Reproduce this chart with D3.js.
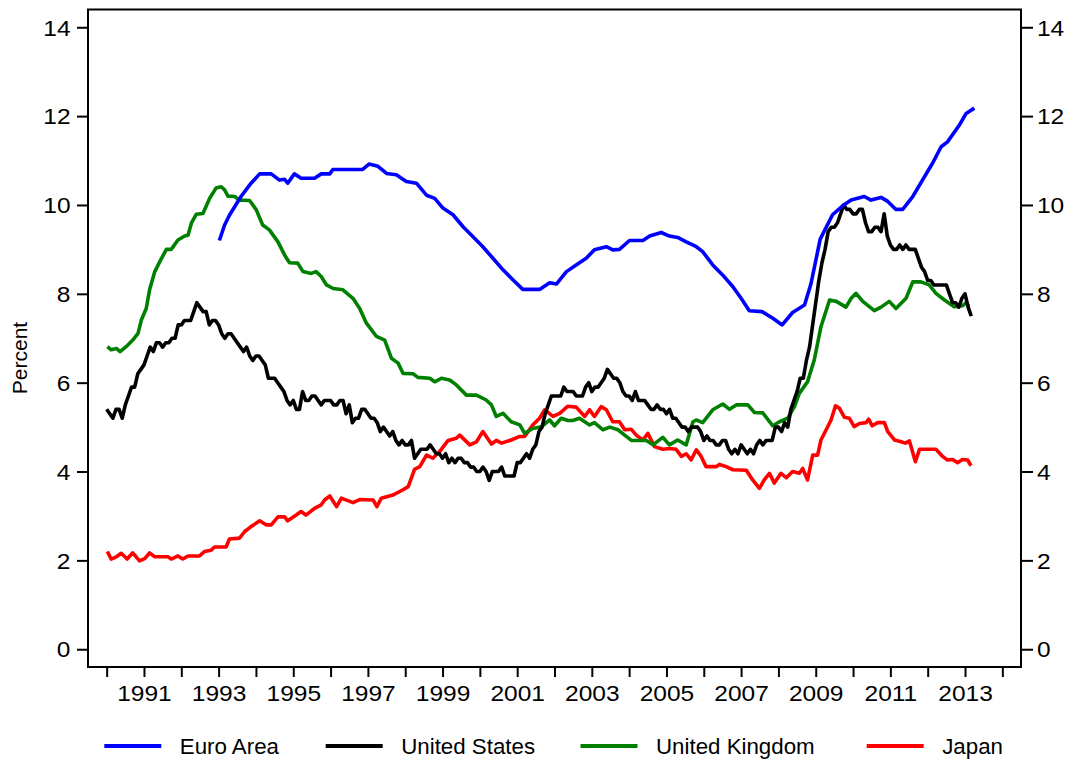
<!DOCTYPE html>
<html>
<head>
<meta charset="utf-8">
<script src="https://cdn.jsdelivr.net/npm/d3@7"></script>
<style>
  html, body { margin: 0; padding: 0; background: #fff; }
  svg { display: block; }
  text { font-family: "Liberation Sans", Arial, Helvetica, sans-serif; fill: #000; }
</style>
</head>
<body>
<svg id="chart" width="1073" height="765"></svg>
<script>
// ---------------- DATA ----------------
const seriesNames = ["Euro Area", "United States", "United Kingdom", "Japan"];
const seriesColors = ["#0000ff", "#000000", "#008000", "#ff0000"];

const yTicks = [0, 2, 4, 6, 8, 10, 12, 14];
const xTickYears = d3.range(1990, 2015);
const xLabelYears = [1991, 1993, 1995, 1997, 1999, 2001, 2003, 2005, 2007, 2009, 2011, 2013];

// United States: monthly, Jan 1990 – Mar 2013
const usStart = 1990;
const usValues = [
  5.4,5.3,5.2,5.4,5.4,5.2,5.5,5.7,5.9,5.9,6.2,6.3,
  6.4,6.6,6.8,6.7,6.9,6.9,6.8,6.9,6.9,7.0,7.0,7.3,
  7.3,7.4,7.4,7.4,7.6,7.8,7.7,7.6,7.6,7.3,7.4,7.4,
  7.3,7.1,7.0,7.1,7.1,7.0,6.9,6.8,6.7,6.8,6.6,6.5,
  6.6,6.6,6.5,6.4,6.1,6.1,6.1,6.0,5.9,5.8,5.6,5.5,
  5.6,5.4,5.4,5.8,5.6,5.6,5.7,5.7,5.6,5.5,5.6,5.6,
  5.6,5.5,5.5,5.6,5.6,5.3,5.5,5.1,5.2,5.2,5.4,5.4,
  5.3,5.2,5.2,5.1,4.9,5.0,4.9,4.8,4.9,4.7,4.6,4.7,
  4.6,4.6,4.7,4.3,4.4,4.5,4.5,4.5,4.6,4.5,4.4,4.4,
  4.3,4.4,4.2,4.3,4.2,4.3,4.3,4.2,4.2,4.1,4.1,4.0,
  4.0,4.1,4.0,3.8,4.0,4.0,4.0,4.1,3.9,3.9,3.9,3.9,
  4.2,4.2,4.3,4.4,4.3,4.5,4.6,4.9,5.0,5.3,5.5,5.7,
  5.7,5.7,5.7,5.9,5.8,5.8,5.8,5.7,5.7,5.7,5.9,6.0,
  5.8,5.9,5.9,6.0,6.1,6.3,6.2,6.1,6.1,6.0,5.8,5.7,
  5.7,5.6,5.8,5.6,5.6,5.6,5.5,5.4,5.4,5.5,5.4,5.4,
  5.3,5.4,5.2,5.2,5.1,5.0,5.0,4.9,5.0,5.0,5.0,4.9,
  4.7,4.8,4.7,4.7,4.6,4.6,4.7,4.7,4.5,4.4,4.5,4.4,
  4.6,4.5,4.4,4.5,4.4,4.6,4.7,4.6,4.7,4.7,4.7,5.0,
  5.0,4.9,5.1,5.0,5.4,5.6,5.8,6.1,6.1,6.5,6.8,7.3,
  7.8,8.3,8.7,9.0,9.4,9.5,9.5,9.6,9.8,10.0,9.9,9.9,
  9.8,9.8,9.9,9.9,9.6,9.4,9.4,9.5,9.5,9.4,9.8,9.3,
  9.1,9.0,9.0,9.1,9.0,9.1,9.0,9.0,9.0,8.8,8.6,8.5,
  8.3,8.3,8.2,8.2,8.2,8.2,8.2,8.0,7.8,7.8,7.7,7.9,
  8.0,7.7,7.5
];
const usDates = usValues.map((v, i) => usStart + i / 12);

// Euro Area (decimal year, percent)
const euroDates = [
  1993.02,1993.16,1993.29,1993.43,1993.60,1993.87,1994.10,1994.41,1994.63,1994.77,
  1994.85,1995.03,1995.21,1995.57,1995.75,1995.98,1996.06,1996.86,1997.03,1997.27,
  1997.50,1997.76,1998.03,1998.30,1998.57,1998.79,1999.01,1999.28,1999.55,1999.81,
  2000.08,2000.35,2000.62,2000.89,2001.15,2001.60,2001.87,2002.05,2002.32,2002.58,
  2002.85,2003.07,2003.39,2003.56,2003.74,2004.01,2004.37,2004.55,2004.86,2005.08,
  2005.30,2005.53,2005.80,2005.97,2006.24,2006.51,2006.78,2007.00,2007.22,2007.56,
  2007.85,2008.10,2008.38,2008.70,2008.87,2009.12,2009.45,2009.72,2009.95,2010.30,
  2010.48,2010.75,2010.93,2011.15,2011.33,2011.60,2011.86,2012.13,2012.36,2012.53,
  2012.85,2013.03,2013.25
];
const euroValues = [
  9.2,9.55,9.77,9.96,10.19,10.49,10.7,10.7,10.56,10.58,
  10.49,10.7,10.6,10.6,10.7,10.7,10.8,10.8,10.92,10.87,
  10.71,10.68,10.53,10.49,10.22,10.15,9.93,9.78,9.51,9.29,
  9.06,8.8,8.54,8.31,8.1,8.1,8.25,8.22,8.5,8.65,
  8.8,8.99,9.06,8.99,9.0,9.2,9.2,9.3,9.38,9.3,
  9.27,9.17,9.06,8.95,8.65,8.42,8.16,7.9,7.62,7.6,
  7.45,7.3,7.58,7.75,8.22,9.23,9.78,9.98,10.11,10.19,
  10.11,10.17,10.08,9.9,9.9,10.19,10.56,10.94,11.31,11.42,
  11.8,12.06,12.18
];

// United Kingdom (decimal year, percent)
const ukDates = [
  1990.02,1990.12,1990.26,1990.36,1990.52,1990.70,1990.84,1990.93,1991.06,1991.15,
  1991.29,1991.42,1991.60,1991.73,1991.91,1992.09,1992.18,1992.27,1992.40,1992.58,
  1992.76,1992.93,1993.07,1993.16,1993.25,1993.43,1993.56,1993.83,1994.01,1994.18,
  1994.36,1994.59,1994.77,1994.90,1995.12,1995.26,1995.48,1995.61,1995.75,1995.89,
  1996.07,1996.33,1996.60,1996.78,1996.96,1997.23,1997.45,1997.63,1997.81,1997.94,
  1998.21,1998.34,1998.66,1998.79,1998.97,1999.19,1999.37,1999.64,1999.91,2000.17,
  2000.31,2000.44,2000.62,2000.84,2001.07,2001.20,2001.42,2001.65,2001.87,2002.00,
  2002.18,2002.36,2002.49,2002.67,2002.94,2003.07,2003.30,2003.48,2003.70,2003.88,
  2004.06,2004.46,2004.64,2004.90,2005.08,2005.30,2005.53,2005.71,2005.80,2005.97,
  2006.24,2006.51,2006.69,2006.87,2007.18,2007.36,2007.58,2007.85,2008.03,2008.25,
  2008.43,2008.56,2008.78,2008.96,2009.14,2009.37,2009.55,2009.81,2009.95,2010.08,
  2010.26,2010.57,2010.75,2010.97,2011.15,2011.42,2011.60,2011.82,2012.04,2012.22,
  2012.45,2012.71,2012.93,2013.03,2013.10
];
const ukValues = [
  6.81,6.74,6.77,6.7,6.81,6.96,7.11,7.41,7.67,8.09,
  8.5,8.72,9.0,9.0,9.21,9.3,9.32,9.59,9.79,9.81,
  10.15,10.38,10.41,10.34,10.2,10.19,10.11,10.1,9.89,9.55,
  9.44,9.17,8.87,8.7,8.69,8.5,8.46,8.5,8.39,8.2,
  8.12,8.09,7.9,7.67,7.34,7.04,6.96,6.55,6.44,6.21,
  6.2,6.12,6.1,6.02,6.1,6.06,5.95,5.72,5.72,5.61,
  5.5,5.24,5.31,5.12,5.05,4.86,4.97,5.01,5.16,5.03,
  5.2,5.15,5.15,5.2,5.05,5.1,4.94,5.0,4.94,4.82,
  4.7,4.7,4.6,4.77,4.6,4.71,4.6,5.12,5.16,5.1,
  5.39,5.52,5.4,5.5,5.5,5.33,5.32,5.03,5.12,5.2,
  5.46,5.76,6.02,6.51,7.26,7.86,7.83,7.7,7.9,8.01,
  7.83,7.62,7.7,7.83,7.67,7.9,8.27,8.27,8.2,8.01,
  7.86,7.71,7.73,7.8,7.72
];

// Japan (decimal year, percent)
const jpDates = [
  1990.02,1990.12,1990.26,1990.39,1990.55,1990.70,1990.88,1991.02,1991.15,1991.29,
  1991.64,1991.73,1991.91,1992.04,1992.18,1992.49,1992.62,1992.80,1992.89,1993.20,
  1993.29,1993.56,1993.70,1993.87,1994.10,1994.27,1994.41,1994.59,1994.77,1994.85,
  1995.08,1995.21,1995.34,1995.57,1995.75,1995.84,1995.98,1996.16,1996.29,1996.60,
  1996.78,1997.14,1997.24,1997.36,1997.67,1997.94,1998.08,1998.25,1998.39,1998.57,
  1998.74,1998.92,1999.15,1999.37,1999.46,1999.73,1999.91,2000.08,2000.31,2000.44,
  2000.58,2000.84,2001.07,2001.20,2001.42,2001.60,2001.74,2001.96,2002.14,2002.36,
  2002.58,2002.81,2002.94,2003.07,2003.25,2003.39,2003.56,2003.74,2003.88,2004.06,
  2004.19,2004.37,2004.50,2004.68,2004.90,2005.08,2005.26,2005.40,2005.53,2005.66,
  2005.80,2005.93,2006.06,2006.33,2006.42,2006.60,2006.78,2007.14,2007.31,2007.49,
  2007.62,2007.76,2007.89,2008.07,2008.21,2008.38,2008.56,2008.65,2008.78,2008.92,
  2009.05,2009.14,2009.28,2009.41,2009.53,2009.63,2009.77,2009.90,2010.03,2010.17,
  2010.35,2010.42,2010.51,2010.66,2010.84,2010.93,2011.11,2011.29,2011.40,2011.51,
  2011.67,2011.78,2012.22,2012.40,2012.53,2012.67,2012.80,2012.93,2013.07,2013.16
];
const jpValues = [
  2.2,2.03,2.08,2.16,2.03,2.17,1.99,2.04,2.17,2.08,
  2.08,2.03,2.1,2.03,2.1,2.1,2.2,2.23,2.3,2.3,
  2.48,2.5,2.65,2.76,2.89,2.8,2.8,2.98,2.98,2.89,
  3.02,3.1,3.02,3.17,3.25,3.36,3.45,3.21,3.4,3.3,
  3.37,3.36,3.21,3.4,3.47,3.59,3.66,4.05,4.11,4.37,
  4.3,4.45,4.7,4.75,4.82,4.6,4.67,4.9,4.62,4.7,
  4.64,4.71,4.79,4.79,5.05,5.2,5.39,5.24,5.31,5.47,
  5.45,5.24,5.39,5.24,5.46,5.39,5.12,5.12,4.94,4.95,
  4.82,4.71,4.86,4.56,4.5,4.52,4.5,4.34,4.4,4.26,
  4.49,4.34,4.11,4.11,4.16,4.11,4.04,4.03,3.81,3.62,
  3.81,3.96,3.74,3.96,3.86,4.0,3.96,4.07,3.81,4.37,
  4.37,4.71,4.94,5.16,5.48,5.43,5.22,5.2,5.01,5.08,
  5.1,5.18,5.03,5.1,5.1,4.9,4.71,4.67,4.64,4.69,
  4.22,4.5,4.5,4.34,4.26,4.27,4.2,4.27,4.26,4.13
];

// ---------------- CHART ----------------
const svg = d3.select("#chart");
const plot = { left: 88, right: 1021, top: 9.5, bottom: 667 };
const x = d3.scaleLinear().domain([1989.5, 2014.5]).range([plot.left, plot.right]);
const y = d3.scaleLinear().domain([-0.4, 14.4]).range([plot.bottom, plot.top]);

const tickFont = 21.5;
const stretch = 1.14;

// frame
svg.append("rect")
  .attr("x", plot.left).attr("y", plot.top)
  .attr("width", plot.right - plot.left).attr("height", plot.bottom - plot.top)
  .attr("fill", "none").attr("stroke", "#000").attr("stroke-width", 2);

function styleAxis(g) {
  g.select(".domain").remove();
  g.selectAll(".tick line").attr("stroke", "#000").attr("stroke-width", 2);
  g.selectAll(".tick text").style("font-size", tickFont + "px")
    .style("font-family", '"Liberation Sans", Arial, sans-serif');
}

// left axis
const yLeft = svg.append("g").attr("transform", `translate(${plot.left},0)`)
  .call(d3.axisLeft(y).tickValues(yTicks).tickSize(11).tickPadding(7).tickFormat(d3.format("d")));
styleAxis(yLeft);
yLeft.selectAll(".tick text")
  .attr("x", -17.5 / stretch)
  .attr("dy", "0.36em")
  .attr("transform", `scale(${stretch},1)`);

// right axis
const yRight = svg.append("g").attr("transform", `translate(${plot.right},0)`)
  .call(d3.axisRight(y).tickValues(yTicks).tickSize(12).tickPadding(4).tickFormat(d3.format("d")));
styleAxis(yRight);
yRight.selectAll(".tick text")
  .attr("x", 16 / stretch)
  .attr("dy", "0.36em")
  .attr("transform", `scale(${stretch},1)`);

// bottom axis
const xAxis = svg.append("g").attr("transform", `translate(0,${plot.bottom})`)
  .call(d3.axisBottom(x).tickValues(xTickYears).tickSize(10)
    .tickFormat(d => xLabelYears.includes(d) ? String(d) : ""));
styleAxis(xAxis);
xAxis.selectAll(".tick text")
  .attr("y", 34).attr("dy", 0)
  .attr("transform", `scale(${stretch},1)`);

// y-axis title
svg.append("text")
  .attr("transform", "translate(26.5,358) rotate(-90)")
  .attr("text-anchor", "middle")
  .style("font-size", "21px")
  .text("Percent");

// lines
const series = [
  { dates: euroDates, values: euroValues },
  { dates: usDates, values: usValues },
  { dates: ukDates, values: ukValues },
  { dates: jpDates, values: jpValues }
];
const line = d3.line().x(d => x(d[0])).y(d => y(d[1]));
const drawOrder = [3, 2, 1, 0];
drawOrder.forEach(i => {
  const s = series[i];
  const pts = s.dates.map((d, k) => [d, s.values[k]]);
  svg.append("path")
    .datum(pts)
    .attr("fill", "none")
    .attr("stroke", seriesColors[i])
    .attr("stroke-width", 3.6)
    .attr("stroke-linejoin", "round")
    .attr("d", line);
});

// legend
const legendX = [104.3, 325.7, 580.5, 866.7];
const legendY = 746;
const legend = svg.append("g");
seriesNames.forEach((name, i) => {
  legend.append("line")
    .attr("x1", legendX[i]).attr("x2", legendX[i] + 57)
    .attr("y1", legendY).attr("y2", legendY)
    .attr("stroke", seriesColors[i]).attr("stroke-width", 4);
  legend.append("text")
    .attr("x", legendX[i] + 75.5).attr("y", legendY + 7.5)
    .style("font-size", "22.3px")
    .text(name);
});
</script>
</body>
</html>
